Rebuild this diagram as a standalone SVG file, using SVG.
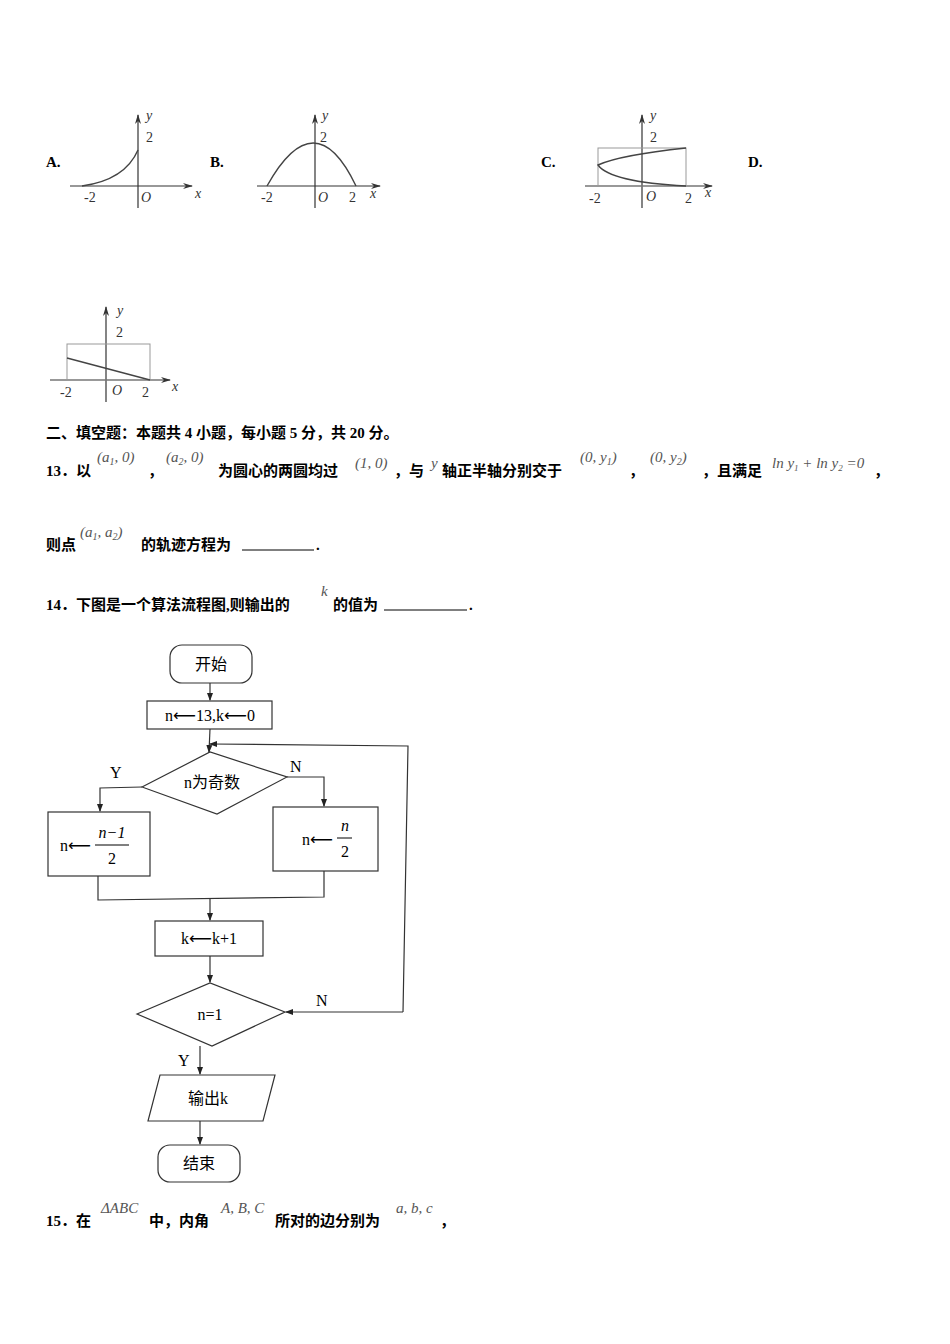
<svg xmlns="http://www.w3.org/2000/svg" width="950" height="1344" viewBox="0 0 950 1344">
<style>
.b{font-family:"Liberation Serif","Noto Sans CJK SC",serif;font-weight:bold;font-size:15px}
.m{font-family:"Liberation Serif",serif;font-style:italic;font-size:15px;fill:#555}
.t{font-family:"Liberation Serif","Noto Sans CJK SC",serif;font-size:16px}
.g{font-family:"Liberation Serif",serif;font-size:14px;fill:#333}
.ln{stroke:#333;fill:none;stroke-width:1.2}
.s{stroke:#444;fill:none;stroke-width:1.4}
.d{stroke:#999;fill:none;stroke-width:1}
.ar{font-family:"DejaVu Sans",sans-serif}
</style>
<defs>
<marker id="ar" markerWidth="8" markerHeight="8" refX="7" refY="4" orient="auto" markerUnits="userSpaceOnUse"><path d="M0,1 L8,4 L0,7 Z" fill="#222"/></marker>
<marker id="ax" markerWidth="10" markerHeight="8" refX="9" refY="4" orient="auto" markerUnits="userSpaceOnUse"><path d="M0,1 L10,4 L0,7 L3,4 Z" fill="#333"/></marker>
</defs>
<rect width="950" height="1344" fill="#fff"/>
<g id="optA">
<text x="46" y="167" class="b">A.</text>
<line x1="70" y1="186" x2="192" y2="186" class="ln" marker-end="url(#ax)"/>
<line x1="138" y1="208" x2="138" y2="115" class="ln" marker-end="url(#ax)"/>
<path d="M82,186 Q125,180 138,150" class="s"/>
<text x="146" y="120" class="g" font-style="italic">y</text><text x="146" y="142" class="g">2</text>
<text x="84" y="202" class="g">-2</text><text x="141" y="202" class="g" font-style="italic">O</text><text x="195" y="198" class="g" font-style="italic">x</text>
</g>
<g id="optB">
<text x="210" y="167" class="b">B.</text>
<line x1="257" y1="186" x2="380" y2="186" class="ln" marker-end="url(#ax)"/>
<line x1="315" y1="208" x2="315" y2="115" class="ln" marker-end="url(#ax)"/>
<path d="M267,186 Q315,100 356,186" class="s"/>
<text x="322" y="120" class="g" font-style="italic">y</text><text x="320" y="142" class="g">2</text>
<text x="261" y="202" class="g">-2</text><text x="318" y="202" class="g" font-style="italic">O</text><text x="349" y="202" class="g">2</text><text x="370" y="198" class="g" font-style="italic">x</text>
</g>
<g id="optC">
<text x="541" y="167" class="b">C.</text>
<line x1="585" y1="186" x2="712" y2="186" class="ln" marker-end="url(#ax)"/>
<line x1="642" y1="208" x2="642" y2="115" class="ln" marker-end="url(#ax)"/>
<rect x="598" y="148" width="88" height="38" class="d"/>
<path d="M686,148 Q620,155 598,165 Q610,182 686,186" class="s"/>
<text x="650" y="120" class="g" font-style="italic">y</text><text x="650" y="142" class="g">2</text>
<text x="589" y="203" class="g">-2</text><text x="646" y="201" class="g" font-style="italic">O</text><text x="685" y="203" class="g">2</text><text x="705" y="197" class="g" font-style="italic">x</text>
</g>
<g id="optD">
<text x="748" y="167" class="b">D.</text>
<line x1="50" y1="380" x2="170" y2="380" class="ln" marker-end="url(#ax)"/>
<line x1="106" y1="402" x2="106" y2="307" class="ln" marker-end="url(#ax)"/>
<rect x="67" y="344" width="83" height="36" class="d"/>
<line x1="67" y1="358" x2="150" y2="380" class="s"/>
<text x="117" y="315" class="g" font-style="italic">y</text><text x="116" y="337" class="g">2</text>
<text x="60" y="397" class="g">-2</text><text x="112" y="395" class="g" font-style="italic">O</text><text x="142" y="397" class="g">2</text><text x="172" y="391" class="g" font-style="italic">x</text>
</g>
<text x="46" y="438" class="b">二、填空题：本题共 4 小题，每小题 5 分，共 20 分。</text>
<text x="46" y="476" class="b">13．以</text>
<text x="97" y="462" class="m">(a<tspan font-size="10" dy="3">1</tspan><tspan dy="-3">, 0)</tspan></text>
<text x="148" y="476" class="b">，</text>
<text x="166" y="462" class="m">(a<tspan font-size="10" dy="3">2</tspan><tspan dy="-3">, 0)</tspan></text>
<text x="218" y="476" class="b">为圆心的两圆均过</text>
<text x="355" y="468" class="m">(1, 0)</text>
<text x="394" y="476" class="b">，与</text>
<text x="431" y="468" class="m">y</text>
<text x="442" y="476" class="b">轴正半轴分别交于</text>
<text x="580" y="462" class="m">(0, y<tspan font-size="10" dy="3">1</tspan><tspan dy="-3">)</tspan></text>
<text x="629" y="476" class="b">，</text>
<text x="650" y="462" class="m">(0, y<tspan font-size="10" dy="3">2</tspan><tspan dy="-3">)</tspan></text>
<text x="702" y="476" class="b">，且满足</text>
<text x="772" y="468" class="m" font-size="13">ln y<tspan font-size="9" dy="3">1</tspan><tspan dy="-3"> + ln y</tspan><tspan font-size="9" dy="3">2</tspan><tspan dy="-3"> =0</tspan></text>
<text x="874" y="476" class="b">，</text>
<text x="46" y="550" class="b">则点</text>
<text x="80" y="537" class="m">(a<tspan font-size="10" dy="3">1</tspan><tspan dy="-3">, a</tspan><tspan font-size="10" dy="3">2</tspan><tspan dy="-3">)</tspan></text>
<text x="141" y="550" class="b">的轨迹方程为</text>
<line x1="242" y1="550" x2="314" y2="550" stroke="#000" stroke-width="1"/>
<text x="316" y="550" class="b">.</text>
<text x="46" y="610" class="b">14．下图是一个算法流程图,则输出的</text>
<text x="321" y="596" class="m">k</text>
<text x="333" y="610" class="b">的值为</text>
<line x1="384" y1="610" x2="467" y2="610" stroke="#000" stroke-width="1"/>
<text x="469" y="610" class="b">.</text>
<text x="46" y="1226" class="b">15．在</text>
<text x="101" y="1213" class="m">ΔABC</text>
<text x="149" y="1226" class="b">中，内角</text>
<text x="221" y="1213" class="m">A, B, C</text>
<text x="275" y="1226" class="b">所对的边分别为</text>
<text x="396" y="1213" class="m">a, b, c</text>
<text x="440" y="1226" class="b">，</text>
<g id="start"><rect x="170" y="645" width="82" height="38" rx="12" class="ln"/><text x="211" y="670" class="t" text-anchor="middle">开始</text></g>
<g id="init"><rect x="147" y="701" width="125" height="28" class="ln"/><text x="210" y="721" class="t" text-anchor="middle">n<tspan class="ar">⟵</tspan>13,k<tspan class="ar">⟵</tspan>0</text></g>
<g id="odd"><polygon points="142,787 210,752 287,777 217,814" class="ln"/><text x="212" y="788" class="t" text-anchor="middle">n为奇数</text></g>
<g id="boxY"><rect x="48" y="812" width="102" height="64" class="ln"/><text x="60" y="851" class="t">n<tspan class="ar">⟵</tspan></text><text x="112" y="838" class="t" font-style="italic" text-anchor="middle">n−1</text><line x1="95" y1="845" x2="129" y2="845" stroke="#000"/><text x="112" y="864" class="t" text-anchor="middle">2</text></g>
<g id="boxN"><rect x="273" y="807" width="105" height="64" class="ln"/><text x="302" y="845" class="t">n<tspan class="ar">⟵</tspan></text><text x="345" y="831" class="t" font-style="italic" text-anchor="middle">n</text><line x1="337" y1="838" x2="352" y2="838" stroke="#000"/><text x="345" y="857" class="t" text-anchor="middle">2</text></g>
<g id="inc"><rect x="155" y="921" width="108" height="35" class="ln"/><text x="209" y="944" class="t" text-anchor="middle">k<tspan class="ar">⟵</tspan>k+1</text></g>
<g id="eq1"><polygon points="137,1014 210,983 285,1012 212,1046" class="ln"/><text x="210" y="1020" class="t" text-anchor="middle">n=1</text></g>
<g id="out"><polygon points="160,1075 275,1075 263,1121 148,1121" class="ln"/><text x="208" y="1104" class="t" text-anchor="middle">输出k</text></g>
<g id="end"><rect x="158" y="1145" width="82" height="37" rx="12" class="ln"/><text x="199" y="1169" class="t" text-anchor="middle">结束</text></g>
<g id="connectors" class="ln">
<line x1="210" y1="683" x2="210" y2="700" marker-end="url(#ar)"/>
<line x1="210" y1="729" x2="209" y2="752" marker-end="url(#ar)"/>
<polyline points="403,1012 408,746 210,744" marker-end="url(#ar)"/>
<polyline points="142,787 100,788 100,811" marker-end="url(#ar)"/>
<polyline points="287,777 324,777 324,806" marker-end="url(#ar)"/>
<polyline points="98,876 98,900 324,897 324,871"/>
<line x1="210" y1="898" x2="210" y2="920" marker-end="url(#ar)"/>
<line x1="210" y1="956" x2="210" y2="982" marker-end="url(#ar)"/>
<line x1="403" y1="1012" x2="286" y2="1012" marker-end="url(#ar)"/>
<line x1="200" y1="1046" x2="200" y2="1074" marker-end="url(#ar)"/>
<line x1="200" y1="1121" x2="200" y2="1144" marker-end="url(#ar)"/>
</g>
<g class="t">
<text x="110" y="778">Y</text><text x="290" y="772">N</text><text x="316" y="1006">N</text><text x="178" y="1066">Y</text>
</g>
</svg>
